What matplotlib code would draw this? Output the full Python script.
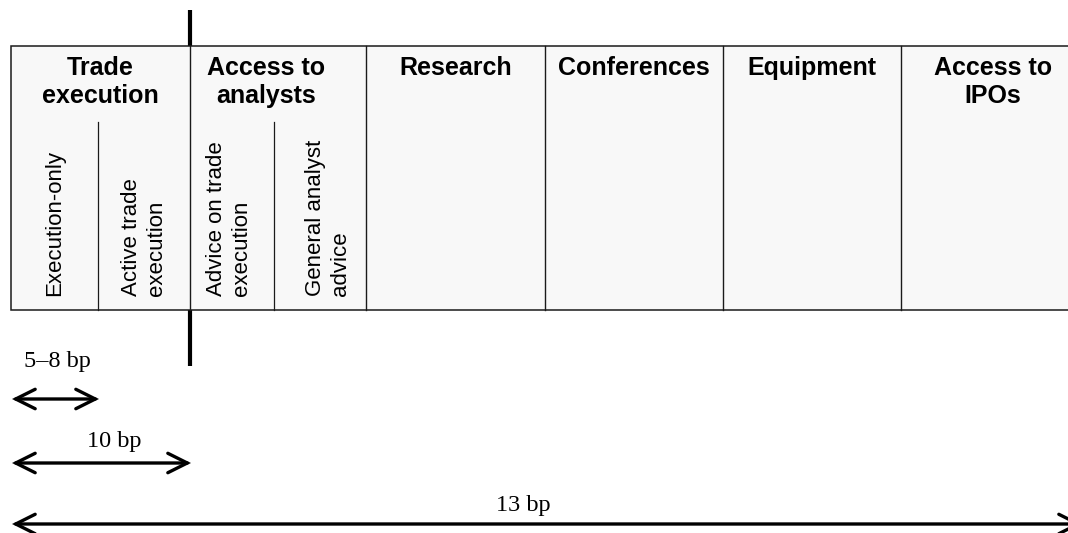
import matplotlib
matplotlib.use("Agg")
import matplotlib.pyplot as plt
from matplotlib.patches import Rectangle, FancyArrowPatch

# service headers (top row of the box) and the sub-services under the first two
headers = ["Trade\nexecution", "Access to\nanalysts", "Research", "Conferences", "Equipment", "Access to\nIPOs"]
sub_labels = ["Execution-only", "Active trade\nexecution", "Advice on trade\nexecution", "General analyst\nadvice"]

# commission levels and the column edge each one reaches
cost_labels = ["5\u20138 bp", "10 bp", "13 bp"]
cost_reach = ["sub1", "col1", "end"]

# layout (pixels, figure drawn 1:1)
W, H = 1068, 533
col_x = [11, 190, 366, 545, 723, 901, 1085]
sub_x = [11, 98, 190, 274, 366]
sub_shift = [0, 0, -3, 8]
box_top, box_bot, sub_top = 46, 310, 122
reach_x = {"sub1": 99, "col1": 191, "end": 1082}
arrow_y = [399, 463, 524]
label_pos = [(57, 362), (114, 442), (523, 506)]

fig = plt.figure(figsize=(W / 100, H / 100), dpi=100)
ax = fig.add_axes([0, 0, 1, 1])
ax.set_xlim(0, W)
ax.set_ylim(H, 0)
ax.axis("off")

edge = "#1a1a1a"

# thick divider between "trade execution" and the rest
ax.plot([col_x[1], col_x[1]], [10, 366], color="black", lw=3, solid_capstyle="butt", zorder=1)

# main box
ax.add_patch(Rectangle((col_x[0], box_top), col_x[-1] - col_x[0], box_bot - box_top,
                       facecolor="#f8f8f8", edgecolor=edge, lw=1.1, zorder=2))
for x in col_x[1:-1]:
    ax.plot([x, x], [box_top, box_bot], color=edge, lw=1.0, zorder=3)
for x in (sub_x[1], sub_x[3]):
    ax.plot([x, x], [sub_top, box_bot], color=edge, lw=0.9, zorder=3)

# headers
for i, h in enumerate(headers):
    cx = (col_x[i] + col_x[i + 1]) / 2
    if i == 1:
        cx -= 12
    ax.text(cx, 56, h, ha="center", va="top", fontsize=18, fontweight="bold",
            family="Liberation Sans", linespacing=1.22, zorder=4)

# rotated sub labels
for i, s in enumerate(sub_labels):
    cx = (sub_x[i] + sub_x[i + 1]) / 2 + sub_shift[i]
    ax.text(cx, 296, s, rotation=90, ha="center", va="bottom", multialignment="left",
            fontsize=16, family="Liberation Sans", linespacing=1.3, zorder=4)

# commission arrows
for lab, reach, y, (tx, ty) in zip(cost_labels, cost_reach, arrow_y, label_pos):
    arr = FancyArrowPatch((12, y), (reach_x[reach], y),
                          arrowstyle="<->,head_length=14,head_width=7",
                          mutation_scale=1, lw=2.4, color="black",
                          shrinkA=0, shrinkB=0, joinstyle="miter")
    ax.add_patch(arr)
    ax.text(tx, ty, lab, ha="center", va="center", fontsize=17.5, family="Liberation Serif")

fig.savefig("out.png", dpi=100)
